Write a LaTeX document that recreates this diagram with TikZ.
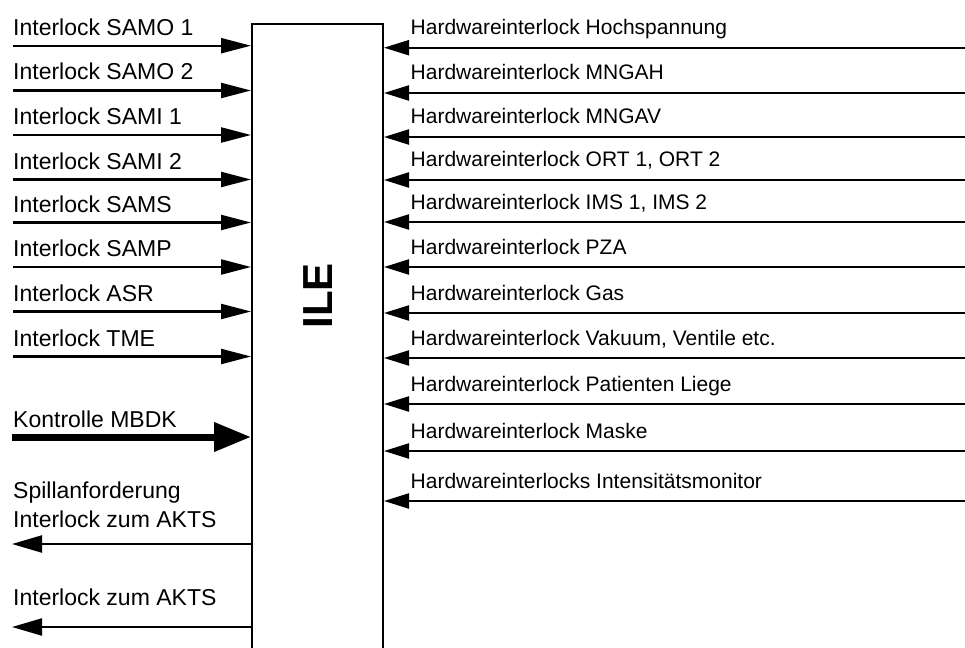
\documentclass[tikz,border=0pt]{standalone}
\usepackage{fontspec}
\setmainfont{Liberation Sans}
\usetikzlibrary{arrows.meta}
\begin{document}
\begin{tikzpicture}[x=1pt,y=-1pt,
  lab/.style={anchor=base west, inner sep=0pt, font=\fontsize{23}{28}\selectfont},
  rlab/.style={anchor=base west, inner sep=0pt, font=\fontsize{21}{25}\selectfont},
  wire/.style={line width=2.2pt},
  inarr/.style={wire, -{Triangle[length=30pt,width=15pt]}},
  outarr/.style={wire, -{Triangle[length=30pt,width=17pt]}},
  thickarr/.style={line width=7pt, -{Triangle[length=37pt,width=28pt]}},
  rarr/.style={wire, -{Triangle[length=25pt,width=15pt]}},
  ilebox/.style={draw, line width=2pt, inner sep=0pt, minimum width=131pt, minimum height=640pt, anchor=north west},
]
\useasboundingbox (0,0) rectangle (965,647);
\clip (0,0) rectangle (965,647);

\node[ilebox] (ile) at (251,23) {};
\node[rotate=90, inner sep=0pt, font=\bfseries\fontsize{42}{50}\selectfont] (iletext) at (318,296) {ILE};

\foreach \y/\t [count=\i] in {45.7/Interlock SAMO 1, 90.5/Interlock SAMO 2, 135/Interlock SAMI 1, 179.5/Interlock SAMI 2, 222.5/Interlock SAMS, 267/Interlock SAMP, 311.5/Interlock ASR, 356.5/Interlock TME}{
  \coordinate (in\i) at (13,\y);
  \node[lab] (inlab\i) at (13,\y-10.5) {\t};
  \draw[inarr] (in\i) -- (in\i -| ile.west);
}

\foreach \y/\t [count=\i] in {47.7/{Hardwareinterlock Hochspannung}, 93/{Hardwareinterlock MNGAH}, 137/{Hardwareinterlock MNGAV}, 180/{Hardwareinterlock ORT 1, ORT 2}, 222/{Hardwareinterlock IMS 1, IMS 2}, 267/{Hardwareinterlock PZA}, 313/{Hardwareinterlock Gas}, 358/{Hardwareinterlock Vakuum, Ventile etc.}, 404/{Hardwareinterlock Patienten Liege}, 451/{Hardwareinterlock Maske}, 501/{Hardwareinterlocks Intensitätsmonitor}}{
  \coordinate (r\i) at (965,\y);
  \node[rlab] (rlab\i) at (410.5,\y-13) {\t};
  \draw[rarr] (r\i) -- (r\i -| ile.east);
}

\coordinate (k) at (12,437);
\node[lab] (klab) at (13,427) {Kontrolle MBDK};
\draw[thickarr] (k) -- (k -| ile.west);

\coordinate (o1) at (12,544);
\node[lab] (o1laba) at (13,498) {Spillanforderung};
\node[lab] (o1labb) at (13,527) {Interlock zum AKTS};
\draw[outarr] (o1 -| ile.west) -- (o1);

\coordinate (o2) at (12,627);
\node[lab] (o2lab) at (13,605) {Interlock zum AKTS};
\draw[outarr] (o2 -| ile.west) -- (o2);
\end{tikzpicture}
\end{document}
